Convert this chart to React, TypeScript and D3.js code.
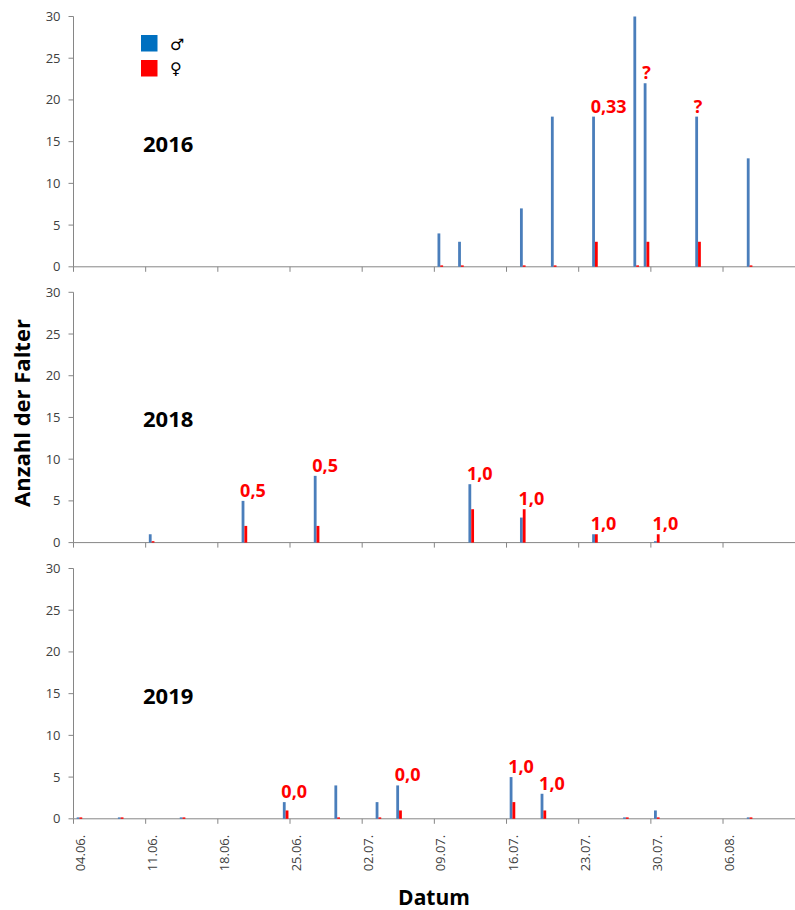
import React from 'react'
import * as d3 from 'd3'

// observation days per year (dd.mm.), males / females, and the red ratio labels
const years = ['2016', '2018', '2019']

const dates2016 = ['09.07.', '11.07.', '17.07.', '20.07.', '24.07.', '28.07.', '29.07.', '03.08.', '08.08.']
const males2016 = [4, 3, 7, 18, 18, 30, 22, 18, 13]
const females2016 = [0, 0, 0, 0, 3, 0, 3, 3, 0]
const labels2016 = ['', '', '', '', '0,33', '', '?', '?', '']

const dates2018 = ['11.06.', '20.06.', '27.06.', '12.07.', '17.07.', '24.07.', '30.07.']
const males2018 = [1, 5, 8, 7, 3, 1, 0]
const females2018 = [0, 2, 2, 4, 4, 1, 1]
const labels2018 = ['', '0,5', '0,5', '1,0', '1,0', '1,0', '1,0']

const dates2019 = ['04.06.', '08.06.', '14.06.', '24.06.', '29.06.', '03.07.', '05.07.', '16.07.', '19.07.', '27.07.', '30.07.', '08.08.']
const males2019 = [0, 0, 0, 2, 4, 2, 4, 5, 3, 0, 1, 0]
const females2019 = [0, 0, 0, 1, 0, 0, 1, 2, 1, 0, 0, 0]
const labels2019 = ['', '', '', '0,0', '', '', '0,0', '1,0', '1,0', '', '', '']

const axisStart = '04.06.'
const axisEnd = '13.08.'
const yTicks = [0, 5, 10, 15, 20, 25, 30]

const parseDay = (s: string) => {
    const [dd, mm] = s.split('.').map(Number)
    return new Date(2016, mm - 1, dd)
}
const fmt = d3.timeFormat('%d.%m.')

const panels = [
    { year: years[0], dates: dates2016, m: males2016, f: females2016, labels: labels2016 },
    { year: years[1], dates: dates2018, m: males2018, f: females2018, labels: labels2018 },
    { year: years[2], dates: dates2019, m: males2019, f: females2019, labels: labels2019 },
]

const BLUE = '#4A7EBB'
const RED = '#FF0000'
const AXIS = '#868686'
const FONT = '"Open Sans", "Liberation Sans", sans-serif'

export default function App() {
    const width = 795
    const height = 910
    const left = 73.5
    const right = 795.2
    const panelTop = [16.5, 292.3, 568.5]
    const panelH = 250.3

    const x = d3.scaleTime().domain([parseDay(axisStart), parseDay(axisEnd)]).range([left, right])
    const y = d3.scaleLinear().domain([0, 30]).range([panelH, 0])
    const xTicks = d3.timeDay.range(parseDay(axisStart), parseDay(axisEnd), 7)
    // bars sit in the middle of their day, ticks on the day boundaries
    const centre = (d: Date) => x(d3.timeHour.offset(d, 12)) + 0.8
    const barW = 2.8
    const barH = (v: number) => Math.max(panelH - y(v), 1.4)

    return (
        <svg width={width} height={height} style={{ position: 'absolute', left: 0, top: 0, background: '#fff' }}>
            {panels.map((p, pi) => (
                <g key={p.year} transform={`translate(0, ${panelTop[pi]})`}>
                    {/* y axis */}
                    <line x1={left} x2={left} y1={0} y2={panelH} stroke={AXIS} />
                    {yTicks.map((t) => (
                        <g key={t} transform={`translate(0, ${y(t)})`}>
                            <line x1={left - 5} x2={left} stroke={AXIS} />
                            <text x={left - 13} dy="0.35em" textAnchor="end" fontFamily={FONT} fontSize={13} fill="#404040">
                                {t}
                            </text>
                        </g>
                    ))}
                    {/* x axis */}
                    <line x1={left} x2={right} y1={panelH} y2={panelH} stroke={AXIS} />
                    {xTicks.map((t) => (
                        <line key={+t} x1={x(t)} x2={x(t)} y1={panelH} y2={panelH + 5} stroke={AXIS} />
                    ))}
                    {/* bars */}
                    {p.dates.map((ds, i) => {
                        const c = centre(parseDay(ds))
                        return (
                            <g key={ds}>
                                <rect x={c - barW} y={panelH - barH(p.m[i])} width={barW} height={barH(p.m[i])} fill={BLUE} />
                                <rect x={c} y={panelH - barH(p.f[i])} width={barW} height={barH(p.f[i])} fill={RED} />
                                {p.labels[i] && (
                                    <text
                                        x={c - barW - 1.5}
                                        y={y(Math.max(p.m[i], p.f[i])) - 4}
                                        fontFamily={FONT}
                                        fontWeight="bold"
                                        fontSize={18}
                                        fill={RED}
                                    >
                                        {p.labels[i]}
                                    </text>
                                )}
                            </g>
                        )
                    })}
                    <text x={143} y={y(15) + 10} fontFamily={FONT} fontWeight="bold" fontSize={22} fill="#000">
                        {p.year}
                    </text>
                </g>
            ))}

            {/* x tick labels on the lowest panel */}
            {xTicks.map((t) => (
                <text
                    key={+t}
                    transform={`translate(${centre(t) + 0.5}, ${panelTop[2] + panelH + 16}) rotate(-90)`}
                    textAnchor="end"
                    dy="0.35em"
                    fontFamily={FONT}
                    fontSize={13}
                    fill="#404040"
                >
                    {fmt(t)}
                </text>
            ))}

            {/* legend */}
            <rect x={141} y={35} width={16.5} height={16.5} fill="#0070C0" />
            <rect x={141} y={60} width={16.5} height={16.5} fill={RED} />
            <text x={170} y={50} fontFamily='"DejaVu Sans", sans-serif' fontWeight="bold" fontSize={16}>♂</text>
            <text x={170} y={74} fontFamily='"DejaVu Sans", sans-serif' fontWeight="bold" fontSize={16}>♀</text>

            {/* axis titles */}
            <text
                transform={`translate(30, 413) rotate(-90)`}
                textAnchor="middle"
                fontFamily={FONT}
                fontWeight="bold"
                fontSize={22}
            >
                Anzahl der Falter
            </text>
            <text x={434} y={905} textAnchor="middle" fontFamily={FONT} fontWeight="bold" fontSize={21}>
                Datum
            </text>
        </svg>
    )
}
